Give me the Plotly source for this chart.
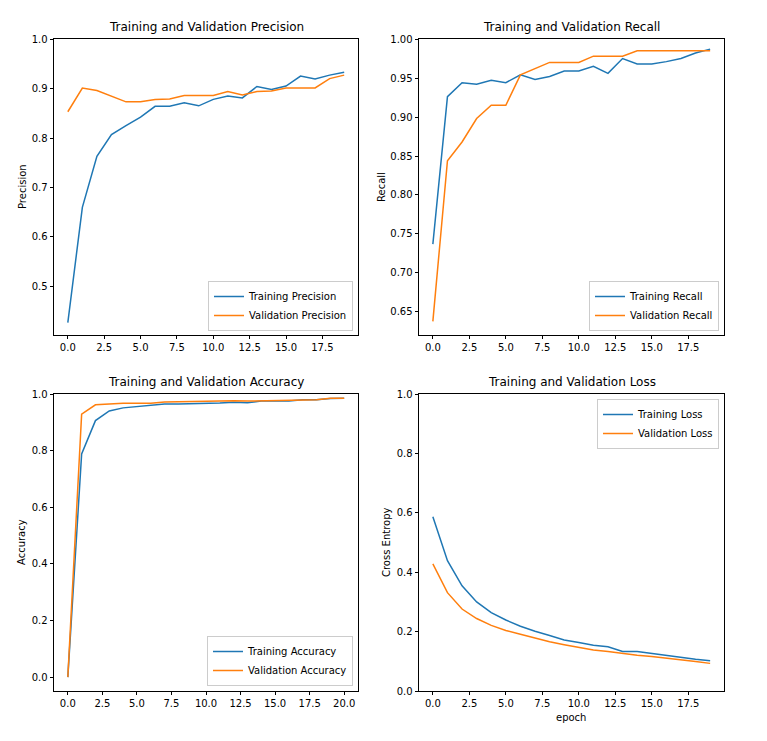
import plotly.graph_objects as go

W, H = 767, 741

epochs20 = list(range(20))
epochs21 = list(range(21))

train_precision = [0.427, 0.660, 0.763, 0.807, 0.825, 0.842, 0.864, 0.864, 0.871, 0.865,
                   0.878, 0.885, 0.881, 0.904, 0.898, 0.905, 0.925, 0.919, 0.927, 0.933]
val_precision = [0.853, 0.901, 0.896, 0.885, 0.873, 0.873, 0.878, 0.879, 0.886, 0.886,
                 0.886, 0.894, 0.887, 0.894, 0.895, 0.901, 0.901, 0.901, 0.920, 0.927]

train_recall = [0.737, 0.926, 0.944, 0.942, 0.947, 0.944, 0.954, 0.948, 0.952, 0.959,
                0.959, 0.965, 0.956, 0.975, 0.968, 0.968, 0.971, 0.975, 0.982, 0.987]
val_recall = [0.638, 0.844, 0.868, 0.898, 0.915, 0.915, 0.954, 0.962, 0.970, 0.970,
              0.970, 0.978, 0.978, 0.978, 0.985, 0.985, 0.985, 0.985, 0.985, 0.985]

train_accuracy = [0.0, 0.788, 0.906, 0.940, 0.951, 0.955, 0.959, 0.965, 0.965, 0.966, 0.966,
                  0.968, 0.971, 0.969, 0.975, 0.974, 0.975, 0.980, 0.980, 0.984, 0.985]
val_accuracy = [0.0, 0.929, 0.962, 0.965, 0.967, 0.967, 0.967, 0.972, 0.973, 0.974, 0.974,
                0.974, 0.976, 0.975, 0.976, 0.978, 0.979, 0.980, 0.980, 0.985, 0.985]

train_loss = [0.587, 0.439, 0.354, 0.300, 0.264, 0.239, 0.218, 0.201, 0.187, 0.172,
              0.163, 0.154, 0.149, 0.133, 0.133, 0.126, 0.121, 0.113, 0.107, 0.102]
val_loss = [0.428, 0.331, 0.276, 0.244, 0.221, 0.204, 0.191, 0.178, 0.166, 0.156,
            0.147, 0.138, 0.133, 0.126, 0.120, 0.116, 0.111, 0.106, 0.099, 0.093]

BLUE = "#1f77b4"
ORANGE = "#ff7f0e"
FONT = "DejaVu Sans"


def px_x(x):
    return x / W


def px_y(y):
    return 1 - y / H


# plot boxes in pixels: (left, right, top, bottom)
boxes = [
    (54, 358, 39, 335),
    (419, 724, 39, 335),
    (54, 358, 394, 691),
    (419, 724, 394, 691),
]

fig = go.Figure()

series = [
    (epochs20, train_precision, "Training Precision", BLUE, 1),
    (epochs20, val_precision, "Validation Precision", ORANGE, 1),
    (epochs20, train_recall, "Training Recall", BLUE, 2),
    (epochs20, val_recall, "Validation Recall", ORANGE, 2),
    (epochs21, train_accuracy, "Training Accuracy", BLUE, 3),
    (epochs21, val_accuracy, "Validation Accuracy", ORANGE, 3),
    (epochs20, train_loss, "Training Loss", BLUE, 4),
    (epochs20, val_loss, "Validation Loss", ORANGE, 4),
]

for xs, ys, name, color, k in series:
    fig.add_trace(go.Scatter(
        x=xs, y=ys, mode="lines", name=name,
        line=dict(color=color, width=1.5),
        xaxis="x" if k == 1 else f"x{k}",
        yaxis="y" if k == 1 else f"y{k}",
        legend="legend" if k == 1 else f"legend{k}",
    ))

x_ranges = [[-0.95, 19.95], [-0.95, 19.95], [-1.0, 21.0], [-0.95, 19.95]]
y_ranges = [[0.402, 1.0], [0.6205, 1.0], [-0.049, 1.0], [0.0, 1.0]]
x_ticks = [
    [0, 2.5, 5, 7.5, 10, 12.5, 15, 17.5],
    [0, 2.5, 5, 7.5, 10, 12.5, 15, 17.5],
    [0, 2.5, 5, 7.5, 10, 12.5, 15, 17.5, 20],
    [0, 2.5, 5, 7.5, 10, 12.5, 15, 17.5],
]
y_ticks = [
    ([0.5, 0.6, 0.7, 0.8, 0.9, 1.0], ".1f"),
    ([0.65, 0.70, 0.75, 0.80, 0.85, 0.90, 0.95, 1.00], ".2f"),
    ([0.0, 0.2, 0.4, 0.6, 0.8, 1.0], ".1f"),
    ([0.0, 0.2, 0.4, 0.6, 0.8, 1.0], ".1f"),
]

axis_common = dict(
    showline=True, mirror=True, linecolor="black", linewidth=0.8,
    ticks="outside", ticklen=3.5, tickwidth=0.8, tickcolor="black",
    showgrid=False, zeroline=False, automargin=False,
    tickfont=dict(family=FONT, size=10, color="black"),
)

layout = {}
for i, (l, r, t, b) in enumerate(boxes):
    k = i + 1
    xn = "xaxis" if k == 1 else f"xaxis{k}"
    yn = "yaxis" if k == 1 else f"yaxis{k}"
    layout[xn] = dict(
        axis_common, domain=[px_x(l), px_x(r)], range=x_ranges[i],
        tickvals=x_ticks[i], tickformat=".1f",
        anchor="y" if k == 1 else f"y{k}",
    )
    yt, yf = y_ticks[i]
    layout[yn] = dict(
        axis_common, domain=[px_y(b), px_y(t)], range=y_ranges[i],
        tickvals=yt, tickformat=yf,
        anchor="x" if k == 1 else f"x{k}",
    )

# legends
legend_pos = [
    (353, 331, "right", "bottom"),
    (719, 331, "right", "bottom"),
    (353, 686, "right", "bottom"),
    (719, 399, "right", "top"),
]
for i, (lx, ly, xa, ya) in enumerate(legend_pos):
    k = i + 1
    ln = "legend" if k == 1 else f"legend{k}"
    layout[ln] = dict(
        x=px_x(lx), y=px_y(ly), xanchor=xa, yanchor=ya,
        xref="paper", yref="paper",
        bgcolor="white", bordercolor="#cccccc", borderwidth=1,
        font=dict(family=FONT, size=10, color="black"),
        tracegroupgap=0, itemwidth=30,
    )

annotations = []
titles = [
    "Training and Validation Precision",
    "Training and Validation Recall",
    "Training and Validation Accuracy",
    "Training and Validation Loss",
]
for (l, r, t, b), title in zip(boxes, titles):
    annotations.append(dict(
        text=title, x=px_x((l + r) / 2), y=px_y(t - 3),
        xref="paper", yref="paper", xanchor="center", yanchor="bottom",
        showarrow=False, font=dict(family=FONT, size=12, color="black"),
    ))

ylabels = [("Precision", 22, 187), ("Recall", 381, 187),
           ("Accuracy", 21, 542), ("Cross Entropy", 386, 542)]
for text, x, y in ylabels:
    annotations.append(dict(
        text=text, x=px_x(x), y=px_y(y), xref="paper", yref="paper",
        xanchor="center", yanchor="middle", textangle=-90, showarrow=False,
        font=dict(family=FONT, size=10, color="black"),
    ))
annotations.append(dict(
    text="epoch", x=px_x(571), y=px_y(717), xref="paper", yref="paper",
    xanchor="center", yanchor="middle", showarrow=False,
    font=dict(family=FONT, size=10, color="black"),
))

fig.update_layout(
    width=W, height=H,
    margin=dict(l=0, r=0, t=0, b=0, autoexpand=False),
    paper_bgcolor="white", plot_bgcolor="white",
    showlegend=True,
    annotations=annotations,
    font=dict(family=FONT, size=10, color="black"),
    **layout,
)

fig.write_html(
    "out.html",
    config={"displayModeBar": False},
    post_script="document.body.style.margin='0';document.body.style.overflow='hidden';",
)
